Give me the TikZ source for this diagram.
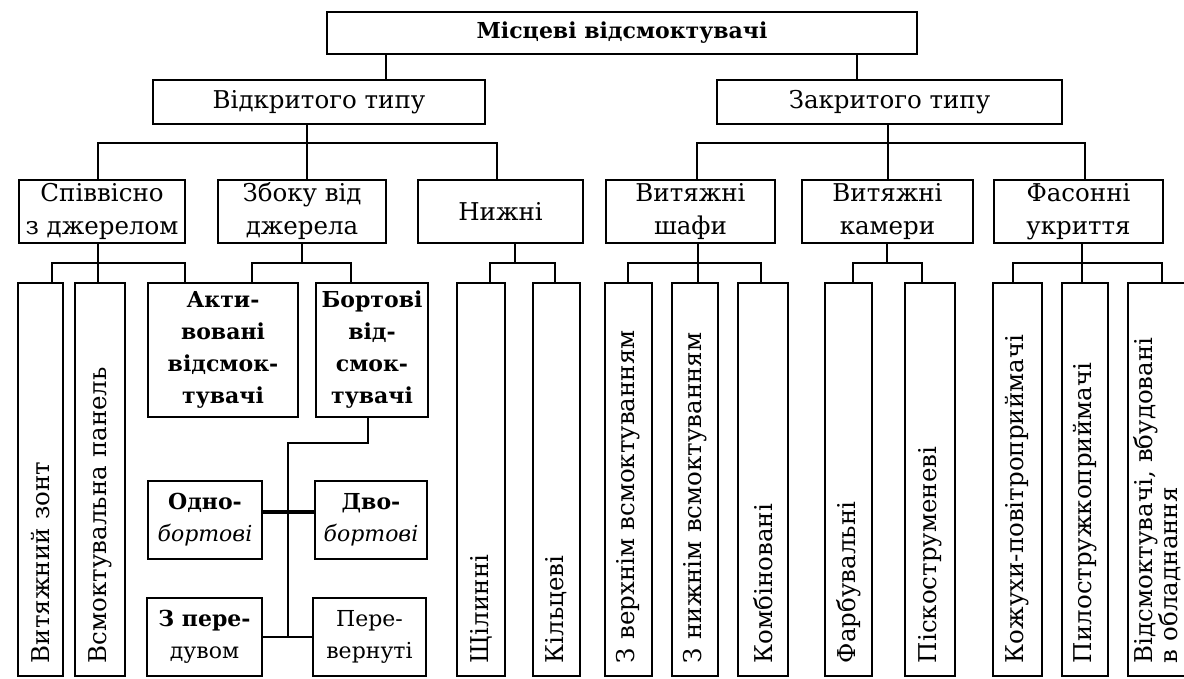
\documentclass[tikz,border=0pt]{standalone}
\usepackage{fontspec}
\setmainfont{DejaVu Serif}

\begin{document}
\begin{tikzpicture}[x=1pt,y=-1pt,line width=1.9pt,
 every node/.style={font=\fontsize{24.5}{33}\selectfont,inner sep=0pt},
 bx/.style={draw,align=center},
 sm/.style={font=\fontsize{22}{32}\selectfont},
 smb/.style={font=\bfseries\fontsize{22}{32}\selectfont},
 lf/.style={draw,rotate=90,minimum width=393pt,text width=367pt,align=left,inner xsep=13pt,inner ysep=0pt}]
\newcommand{\tie}[5]{\draw (#3,0 |- #1.south) |- (#4,#5) -- (#4,0 |- #2);}
\useasboundingbox (0,0) rectangle (1184,678);
\node[bx,minimum width=590pt,minimum height=42pt,font=\bfseries\fontsize{22}{24}\selectfont] (top) at (622,33) {Місцеві відсмоктувачі};
\node[bx,minimum width=332pt,minimum height=44pt] (open) at (319,102) {Відкритого типу};
\node[bx,minimum width=345pt,minimum height=44pt] (closed) at (889.5,102) {Закритого типу};
\node[bx,minimum width=166pt,minimum height=63pt] (coax) at (102,211.5) {Співвісно\\з джерелом};
\node[bx,minimum width=168pt,minimum height=63pt] (side) at (302,211.5) {Збоку від\\джерела};
\node[bx,minimum width=165pt,minimum height=63pt] (low) at (500.5,211.5) {Нижні};
\node[bx,minimum width=169pt,minimum height=63pt] (hood) at (690.5,211.5) {Витяжні\\шафи};
\node[bx,minimum width=171pt,minimum height=63pt] (cab) at (887.5,211.5) {Витяжні\\камери};
\node[bx,minimum width=169pt,minimum height=63pt] (fas) at (1078.5,211.5) {Фасонні\\укриття};
\node[bx,smb,minimum width=150pt,minimum height=134pt] (akt) at (223,350) {Акти-\\вовані\\відсмок-\\тувачі};
\node[bx,smb,minimum width=112pt,minimum height=134pt] (bort) at (372,350) {Бортові\\від-\\смок-\\тувачі};
\node[bx,sm,minimum width=114pt,minimum height=78pt] (one) at (205,520) {\textbf{Одно-}\\\textit{бортові}};
\node[bx,sm,minimum width=112pt,minimum height=78pt] (two) at (371,520) {\textbf{Дво-}\\\textit{бортові}};
\node[bx,sm,minimum width=115pt,minimum height=78pt] (blow) at (204.5,637) {\textbf{З пере-}\\дувом};
\node[bx,sm,minimum width=113pt,minimum height=78pt] (inv) at (369.5,637) {Пере-\\вернуті};
\foreach \n/\cx/\w/\txt in {zont/40.5/45/Витяжний зонт,panel/100/50/Всмоктувальна панель,
 shch/481/48/Щілинні,kilts/556.5/47/Кільцеві,upper/628.5/47/З верхнім всмоктуванням,
 lower/695/46/З нижнім всмоктуванням,comb/763/50/Комбіновані,paint/848.5/47/Фарбувальні,
 sand/930/50/Піскоструменеві,casing/1017.5/49/Кожухи-повітроприймачі,dust/1085/46/Пилостружкоприймачі}
 \node[lf,minimum height=\w pt] (\n) at (\cx,479.5) {\txt};
\node[lf,minimum height=58pt,font=\fontsize{24.5}{25}\selectfont] (built) at (1157,479.5) {Відсмоктувачі, вбудовані\\в обладнання};
\tie{top}{open.north}{386}{386}{70}
\tie{top}{closed.north}{857}{857}{70}
\tie{open}{coax.north}{307}{98}{143}
\tie{open}{side.north}{307}{307}{143}
\tie{open}{low.north}{307}{497}{143}
\tie{closed}{hood.north}{888}{697}{143}
\tie{closed}{cab.north}{888}{888}{143}
\tie{closed}{fas.north}{888}{1085}{143}
\tie{coax}{zont.east}{98}{52}{263}
\tie{coax}{panel.east}{98}{98}{263}
\tie{coax}{akt.north}{98}{185}{263}
\tie{side}{akt.north}{302}{252}{263}
\tie{side}{bort.north}{302}{351}{263}
\tie{low}{shch.east}{515}{490}{263}
\tie{low}{kilts.east}{515}{555}{263}
\tie{hood}{upper.east}{698}{628}{263}
\tie{hood}{lower.east}{698}{698}{263}
\tie{hood}{comb.east}{698}{761}{263}
\tie{cab}{paint.east}{887}{853}{263}
\tie{cab}{sand.east}{887}{922}{263}
\tie{fas}{casing.east}{1082}{1013}{263}
\tie{fas}{dust.east}{1082}{1082}{263}
\tie{fas}{built.east}{1082}{1162}{263}
\draw (368,0 |- bort.south) -- (368,443) -| (288,0 |- blow.east);
\draw[line width=3.4pt] ([yshift=8pt]one.east) -- ([yshift=8pt]two.west);
\draw (blow.east) -- (inv.west);
\end{tikzpicture}
\end{document}
